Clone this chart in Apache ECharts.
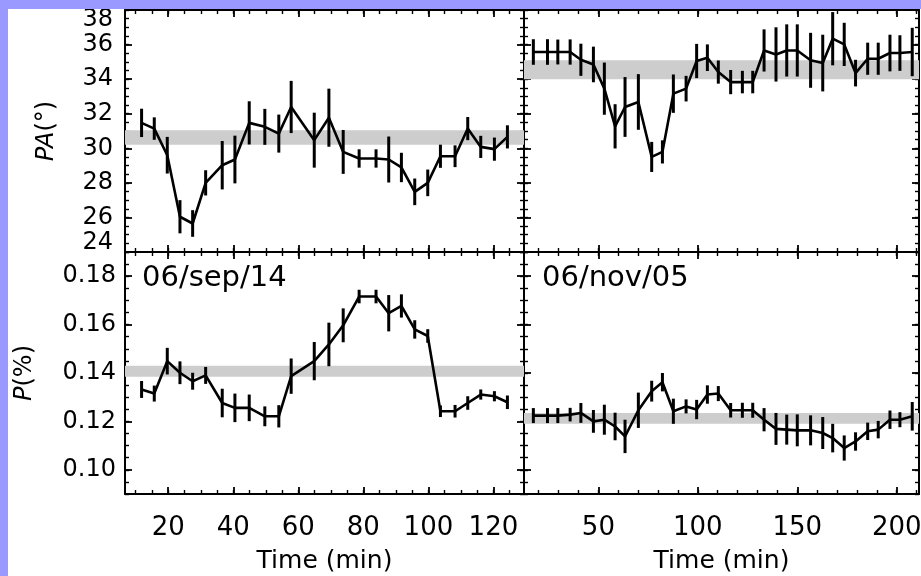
<!DOCTYPE html>
<html>
<head>
<meta charset="utf-8">
<script src="https://cdn.jsdelivr.net/npm/echarts@6/dist/echarts.min.js"></script>
<style>
  html, body { margin: 0; padding: 0; background: #fff; }
  #chart { width: 921px; height: 576px; }
</style>
</head>
<body>
<div id="chart"></div>
<script>
// ---- 06/sep/14 run ----
const timeSep = [11.8, 15.7, 19.7, 23.6, 27.5, 31.5, 36.6, 40.5, 44.9, 49.7, 54.0, 57.8, 64.9, 69.4,
  73.8, 78.7, 83.9, 87.8, 91.7, 95.8, 99.8, 103.7, 108.2, 112.1, 116.1, 120.3, 124.3];
const paSep = [31.47, 31.14, 29.6, 26.04, 25.65, 28.0, 29.02, 29.35, 31.47, 31.24, 30.85, 32.39, 30.47, 31.77,
  29.79, 29.41, 29.41, 29.35, 28.89, 27.48, 28.0, 29.54, 29.54, 31.14, 30.08, 29.95, 30.66];
const paSepErr = [0.82, 0.65, 1.06, 0.96, 0.77, 0.73, 1.4, 1.38, 1.25, 1.04, 1.1, 1.51, 1.59, 1.68,
  1.27, 0.53, 0.53, 1.33, 0.85, 0.77, 0.77, 0.67, 0.63, 0.67, 0.64, 0.67, 0.67];
const pSep = [0.1332, 0.1315, 0.1449, 0.1401, 0.1366, 0.1390, 0.1276, 0.1256, 0.1256, 0.1221, 0.1221, 0.1387,
  0.1449, 0.1518, 0.1597, 0.1716, 0.1716, 0.1647, 0.1677, 0.1580, 0.1553, 0.1242, 0.1242, 0.1276, 0.1311,
  0.1304, 0.1279];
const pSepErr = [0.0035, 0.0033, 0.0055, 0.0047, 0.0035, 0.0035, 0.0059, 0.0059, 0.0055, 0.0041, 0.0046,
  0.0073, 0.0079, 0.009, 0.007, 0.0028, 0.0028, 0.0075, 0.0048, 0.0038, 0.0028, 0.0024, 0.0026, 0.0028,
  0.0021, 0.0021, 0.0028];

// ---- 06/nov/05 run ----
const timeNov = [17.3, 24.4, 29.6, 35.8, 41.2, 47.5, 53.0, 58.4, 63.4, 70.1, 76.8, 82.2, 87.7, 94.1, 99.4,
  104.8, 110.3, 116.5, 122.4, 127.6, 133.3, 139.3, 144.7, 150.0, 156.7, 162.8, 167.8, 173.6, 179.3, 185.4,
  190.7, 196.6, 201.6, 207.8];
const paNov = [35.57, 35.57, 35.57, 35.57, 35.12, 34.85, 33.45, 31.27, 32.39, 32.68, 29.5, 29.79, 33.16,
  33.45, 35.05, 35.24, 34.41, 33.83, 33.83, 33.83, 35.66, 35.43, 35.66, 35.66, 35.09, 34.93, 36.34, 36.01,
  34.35, 35.18, 35.18, 35.51, 35.51, 35.57];
const paNovErr = [0.74, 0.74, 0.72, 0.73, 0.93, 1.03, 1.51, 1.28, 1.73, 1.61, 0.87, 0.67, 1.11, 0.74, 0.99,
  0.77, 0.67, 0.7, 0.65, 0.65, 1.22, 1.57, 1.51, 1.51, 1.59, 1.64, 1.54, 1.25, 0.77, 0.93, 0.93, 1.06, 1.03, 1.4];
const pNov = [0.1224, 0.1224, 0.1224, 0.1228, 0.1235, 0.1200, 0.1207, 0.1179, 0.1138, 0.1246, 0.1325,
  0.1362, 0.1242, 0.1262, 0.1249, 0.1311, 0.1315, 0.1246, 0.1246, 0.1246, 0.1207, 0.1169, 0.1166, 0.1163,
  0.1163, 0.1152, 0.1131, 0.1090, 0.1117, 0.1159, 0.1166, 0.1207, 0.1207, 0.1221];
const pNovErr = [0.0031, 0.0031, 0.0031, 0.0028, 0.0041, 0.0047, 0.0062, 0.0057, 0.0069, 0.0073, 0.0043,
  0.0038, 0.0052, 0.0029, 0.004, 0.0038, 0.0031, 0.003, 0.0031, 0.0031, 0.0048, 0.0066, 0.0062, 0.0066,
  0.0062, 0.0066, 0.0059, 0.0052, 0.0038, 0.0036, 0.0036, 0.0038, 0.0031, 0.0059];

// Mean +/- sigma bands [low, high]
const paSepBand = [30.2, 31.05];
const pSepBand = [0.1385, 0.143];
const paNovBand = [34.0, 35.1];
const pNovBand = [0.119, 0.1235];

const panelLabels = ['06/sep/14', '06/nov/05'];

// Axis ranges and tick labels
const paRange = [24, 38];
const pRange = [0.09, 0.19];
const sepRange = [6.7, 129.4];
const novRange = [12.6, 211.2];
const paTicks = [24, 26, 28, 30, 32, 34, 36, 38];
const pTicks = [0.10, 0.12, 0.14, 0.16, 0.18];
const sepTicks = [20, 40, 60, 80, 100, 120];
const novTicks = [50, 100, 150, 200];

function steps(from, to, step, digits) {
  const out = [];
  for (let i = 0; from + i * step <= to + 1e-9; i++) out.push(+(from + i * step).toFixed(digits));
  return out;
}
const paMinor = steps(24, 38, 0.5, 2);
const pMinor = steps(0.09, 0.19, 0.005, 4);
const sepMinor = steps(10, 125, 5, 0);
const novMinor = steps(20, 210, 10, 0);

const FONT = '"DejaVu Sans", sans-serif';
const INK = '#000';

// Four framed sides per grid: a major axis (line, long ticks, labels) and a minor axis (short ticks)
function frameAxes(kind, gridIndex, range, majors, minors, extra) {
  const sides = kind === 'x' ? ['bottom', 'top'] : ['left', 'right'];
  const out = [];
  sides.forEach((pos, si) => {
    const main = {
      type: 'value', gridIndex, position: pos, min: range[0], max: range[1],
      axisLine: { show: true, onZero: false, lineStyle: { color: INK, width: 2 } },
      axisTick: { show: true, inside: true, length: 7, customValues: majors, lineStyle: { color: INK, width: 1.8 } },
      axisLabel: { show: false },
      splitLine: { show: false }
    };
    if (si === 0 && extra) Object.assign(main, extra);
    out.push(main);
    out.push({
      type: 'value', gridIndex, position: pos, min: range[0], max: range[1],
      axisLine: { show: false, onZero: false },
      axisTick: { show: true, inside: true, length: 4, customValues: minors, lineStyle: { color: INK, width: 1.4 } },
      axisLabel: { show: false },
      splitLine: { show: false }
    });
  });
  return out;
}

const xLabelStyle = (ticks) => ({
  axisLabel: {
    show: true, customValues: ticks, margin: 21, color: INK, fontFamily: FONT, fontSize: 26,
    showMinLabel: true, showMaxLabel: true, hideOverlap: false
  },
  name: 'Time (min)', nameLocation: 'middle', nameGap: 55,
  nameTextStyle: { color: INK, fontFamily: FONT, fontSize: 25 }
});

const yLabelCommon = {
  show: true, color: INK, fontFamily: FONT, fontSize: 24, lineHeight: 19,
  showMinLabel: true, showMaxLabel: true, hideOverlap: false
};
const nameStyle = {
  color: INK, fontFamily: FONT, fontSize: 24,
  rich: { i: { fontStyle: 'italic', fontFamily: FONT, fontSize: 24, color: INK } }
};

const xAxis = [
  ...frameAxes('x', 0, sepRange, sepTicks, sepMinor),
  ...frameAxes('x', 1, novRange, novTicks, novMinor),
  ...frameAxes('x', 2, sepRange, sepTicks, sepMinor, xLabelStyle(sepTicks)),
  ...frameAxes('x', 3, novRange, novTicks, novMinor, xLabelStyle(novTicks))
];

const yAxis = [
  ...frameAxes('y', 0, paRange, paTicks, paMinor, {
    axisLabel: Object.assign({}, yLabelCommon, {
      customValues: paTicks, margin: 12,
      verticalAlignMaxLabel: 'top', verticalAlignMinLabel: 'bottom'
    }),
    name: '{i|PA}(°)', nameLocation: 'middle', nameGap: 66, nameTextStyle: nameStyle
  }),
  ...frameAxes('y', 1, paRange, paTicks, paMinor),
  ...frameAxes('y', 2, pRange, pTicks, pMinor, {
    axisLabel: Object.assign({}, yLabelCommon, {
      customValues: pTicks, margin: 9, formatter: (v) => v.toFixed(2)
    }),
    name: '{i|P}(%)', nameLocation: 'middle', nameGap: 88, nameTextStyle: nameStyle
  }),
  ...frameAxes('y', 3, pRange, pTicks, pMinor)
];

// Series for one panel: grey band, error bars, connecting line
function panelSeries(g, xRange, times, vals, errs, band) {
  const ax = g * 4;
  return [
    {
      type: 'custom', xAxisIndex: ax, yAxisIndex: ax, z: 1, silent: true,
      data: [[xRange[0], band[0], band[1]]],
      encode: { x: 0, y: [1, 2] },
      renderItem(params, api) {
        const cs = params.coordSys;
        const lo = api.coord([api.value(0), api.value(1)])[1];
        const hi = api.coord([api.value(0), api.value(2)])[1];
        return { type: 'rect', shape: { x: cs.x, y: hi, width: cs.width, height: lo - hi }, style: { fill: '#cdcdcd' } };
      }
    },
    {
      type: 'custom', xAxisIndex: ax, yAxisIndex: ax, z: 3, silent: true,
      data: times.map((t, i) => [t, vals[i] - errs[i], vals[i] + errs[i]]),
      encode: { x: 0, y: [1, 2] },
      renderItem(params, api) {
        const a = api.coord([api.value(0), api.value(1)]);
        const b = api.coord([api.value(0), api.value(2)]);
        return { type: 'line', shape: { x1: a[0], y1: a[1], x2: b[0], y2: b[1] }, style: { stroke: INK, lineWidth: 3 } };
      }
    },
    {
      type: 'line', xAxisIndex: ax, yAxisIndex: ax, z: 4, silent: true,
      data: times.map((t, i) => [t, vals[i]]),
      symbol: 'none', lineStyle: { color: INK, width: 2.6 }, animation: false
    }
  ];
}

const grids = [
  { left: 125, top: 10, width: 399, height: 242 },
  { left: 524, top: 10, width: 395, height: 242 },
  { left: 125, top: 252, width: 399, height: 242 },
  { left: 524, top: 252, width: 395, height: 242 }
].map(g => Object.assign({ containLabel: false, outerBoundsMode: 'none' }, g));

const option = {
  animation: false,
  backgroundColor: '#fff',
  grid: grids,
  xAxis, yAxis,
  series: [
    ...panelSeries(0, sepRange, timeSep, paSep, paSepErr, paSepBand),
    ...panelSeries(1, novRange, timeNov, paNov, paNovErr, paNovBand),
    ...panelSeries(2, sepRange, timeSep, pSep, pSepErr, pSepBand),
    ...panelSeries(3, novRange, timeNov, pNov, pNovErr, pNovBand)
  ],
  graphic: [
    { type: 'text', x: 142, y: 278, z: 50, style: { text: panelLabels[0], fontFamily: FONT, fontSize: 29, fill: INK, verticalAlign: 'middle' } },
    { type: 'text', x: 542, y: 278, z: 50, style: { text: panelLabels[1], fontFamily: FONT, fontSize: 29, fill: INK, verticalAlign: 'middle' } },
    { type: 'rect', z: 100, shape: { x: 0, y: 0, width: 921, height: 9 }, style: { fill: '#9999ff' } },
    { type: 'rect', z: 100, shape: { x: 0, y: 0, width: 8, height: 576 }, style: { fill: '#9999ff' } }
  ]
};

const chart = echarts.init(document.getElementById('chart'), null, { renderer: 'canvas' });
chart.setOption(option);
</script>
</body>
</html>
